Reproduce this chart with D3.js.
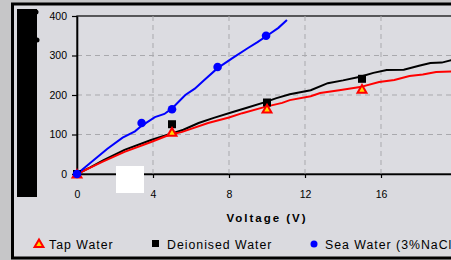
<!DOCTYPE html>
<html>
<head>
<meta charset="utf-8">
<script src="https://cdn.jsdelivr.net/npm/d3@7"></script>
<style>
  body { margin: 0; background: #c6c6c8; }
  svg { display: block; font-family: "Liberation Sans", Arial, sans-serif; }
</style>
</head>
<body>
<div id="chart"></div>
<script>
  var width = 451;
  var height = 260;

  // tick labels
  var xTicks = [0, 4, 8, 12, 16];
  var yTicks = [0, 100, 200, 300, 400];

  var tapLine = [[0,0],[0.7,16],[1.3,30],[2.5,56],[3.9,81],[4.9,100],[5.5,106],[6.9,129],[8.0,143],[8.7,154],[9.9,170],[10.8,180],[11.2,187],[12.3,197],[12.8,205],[13.8,212],[14.9,220],[15.9,233],[16.7,238],[17.5,248],[18.2,252],[18.9,258],[20,260]];
  var deionLine = [[0,0],[0.7,17],[1.4,35],[2.5,61],[3.9,86],[4.6,97],[5.2,106],[5.6,112],[6.4,129],[7.2,142],[8.2,157],[8.9,167],[9.9,182],[10.5,192],[11.2,202],[12.3,212],[13.2,230],[14.0,237],[14.9,246],[15.6,256],[16.3,263],[17.2,264],[18.0,274],[18.6,281],[19.2,282],[20,292]];
  var seaLine = [[0,0],[0.6,24],[1.6,64],[2.4,92],[3.05,108],[3.4,122],[4.1,144],[4.6,152],[5.0,166],[5.7,200],[6.2,216],[6.7,238],[7.4,268],[8.2,294],[9.0,319],[9.5,334],[10.0,350],[10.6,370],[11.05,390]];

  // marker points
  var tapPts = [[0,0],[5,106],[10,165],[15,215]];
  var deionPts = [[0,0],[5,126],[10,181],[15,241]];
  var seaPts = [[0,0],[3.4,129],[5,164],[7.4,271],[9.95,350]];

  var legendNames = ["Tap Water", "Deionised Water", "Sea Water (3%NaCl)"];

  var svg = d3.select("#chart")
              .append("svg")
              .attr("width", width)
              .attr("height", height);

  // outer frame
  svg.append("rect")
     .attr("x", 12.5).attr("y", 4)
     .attr("width", 470).attr("height", 254)
     .attr("fill", "#dadadf")
     .attr("stroke", "#000")
     .attr("stroke-width", 3);

  // black block on the left (covers the y title)
  svg.append("rect")
     .attr("x", 17).attr("y", 9)
     .attr("width", 20).attr("height", 188)
     .attr("fill", "#000");
  svg.append("circle").attr("cx", 36).attr("cy", 12).attr("r", 2.5).attr("fill", "#000");
  svg.append("circle").attr("cx", 37).attr("cy", 40).attr("r", 2.5).attr("fill", "#000");

  var xScale = d3.scaleLinear()
    .domain([0, 20])
    .range([77, 457]);

  var yScale = d3.scaleLinear()
    .domain([0, 400])
    .range([174, 16]);

  // plot area
  svg.append("rect")
     .attr("x", 77).attr("y", 16)
     .attr("width", 400).attr("height", 158)
     .attr("fill", "#dcdce1")
     .attr("stroke", "#111")
     .attr("stroke-width", 1.3);

  // dashed grid
  var grid = svg.append("g").attr("class", "grid");
  grid.selectAll(".gx")
      .data(xTicks.filter(function(d){ return d > 0 }))
      .enter().append("line")
      .attr("x1", function(d){ return xScale(d) })
      .attr("x2", function(d){ return xScale(d) })
      .attr("y1", yScale(400)).attr("y2", yScale(0))
      .attr("stroke", "#a9a9ad").attr("stroke-dasharray", "5,4");
  grid.selectAll(".gy")
      .data(yTicks.filter(function(d){ return d > 0 && d < 400 }))
      .enter().append("line")
      .attr("x1", xScale(0)).attr("x2", width)
      .attr("y1", function(d){ return yScale(d) })
      .attr("y2", function(d){ return yScale(d) })
      .attr("stroke", "#a9a9ad").attr("stroke-dasharray", "5,4");

  // axes
  var axisx = d3.axisBottom(xScale).tickValues(xTicks)
                .tickSizeInner(4).tickSizeOuter(0).tickPadding(13);
  var axisy = d3.axisLeft(yScale).tickValues(yTicks)
                .tickSizeInner(5).tickSizeOuter(0).tickPadding(5);

  var gx = svg.append("g")
    .attr("transform", "translate(0," + yScale(0) + ")")
    .call(axisx);
  var gy = svg.append("g")
    .attr("transform", "translate(" + xScale(0) + ",0)")
    .call(axisy);

  [gx, gy].forEach(function(g) {
    g.select(".domain").attr("stroke", "#000").attr("stroke-width", 1.6);
    g.selectAll(".tick line").attr("stroke", "#000").attr("stroke-width", 1.2);
    g.selectAll(".tick text")
     .attr("fill", "#000")
     .attr("font-size", "10.5px")
     .attr("font-family", "Liberation Sans, Arial, sans-serif");
  });

  svg.append("text")
    .attr("x", 267)
    .attr("y", 222)
    .attr("text-anchor", "middle")
    .attr("font-size", "11.5px")
    .attr("font-weight", "bold")
    .attr("letter-spacing", "2px")
    .attr("fill", "#000")
    .text("Voltage (V)");

  // white patch
  svg.append("rect")
     .attr("x", 116).attr("y", 166)
     .attr("width", 28).attr("height", 27)
     .attr("fill", "#fff");

  var line = d3.line()
    .x(function(d) { return xScale(d[0]) })
    .y(function(d) { return yScale(d[1]) });

  var lines = svg.append("g").attr("class", "lines");

  lines.append("path").datum(deionLine)
       .attr("d", line).attr("fill", "none")
       .attr("stroke", "#000").attr("stroke-width", 2);
  lines.append("path").datum(tapLine)
       .attr("d", line).attr("fill", "none")
       .attr("stroke", "#ff0000").attr("stroke-width", 2);
  lines.append("path").datum(seaLine)
       .attr("d", line).attr("fill", "none")
       .attr("stroke", "#0000ff").attr("stroke-width", 2);

  var tri = d3.symbol().type(d3.symbolTriangle).size(34);

  // markers
  svg.append("g").selectAll("rect")
     .data(deionPts).enter().append("rect")
     .attr("x", function(d){ return xScale(d[0]) - 4 })
     .attr("y", function(d){ return yScale(d[1]) - 4 })
     .attr("width", 8).attr("height", 8)
     .attr("fill", "#000");

  svg.append("g").selectAll("path")
     .data(tapPts).enter().append("path")
     .attr("d", tri)
     .attr("transform", function(d){ return "translate(" + xScale(d[0]) + "," + (yScale(d[1]) + 1) + ")" })
     .attr("fill", "#ffd800")
     .attr("stroke", "#ff0000")
     .attr("stroke-width", 2);

  svg.append("g").selectAll("circle")
     .data(seaPts).enter().append("circle")
     .attr("cx", function(d){ return xScale(d[0]) })
     .attr("cy", function(d){ return yScale(d[1]) })
     .attr("r", 4.3)
     .attr("fill", "#0000ff");

  // legend
  var legend = svg.append("g").attr("class", "legend");
  legend.append("path")
        .attr("d", tri)
        .attr("transform", "translate(39,244.5)")
        .attr("fill", "#ffd800").attr("stroke", "#ff0000").attr("stroke-width", 2);
  legend.append("rect")
        .attr("x", 152).attr("y", 240).attr("width", 7).attr("height", 7)
        .attr("fill", "#000");
  legend.append("circle")
        .attr("cx", 314).attr("cy", 244).attr("r", 3.5)
        .attr("fill", "#0000ff");

  legend.selectAll("text")
        .data(legendNames).enter().append("text")
        .attr("x", function(d, i){ return [49, 167, 325][i] })
        .attr("y", 248.5)
        .attr("font-size", "12.3px")
        .attr("letter-spacing", "1px")
        .attr("fill", "#000")
        .text(function(d){ return d });
</script>
</body>
</html>
